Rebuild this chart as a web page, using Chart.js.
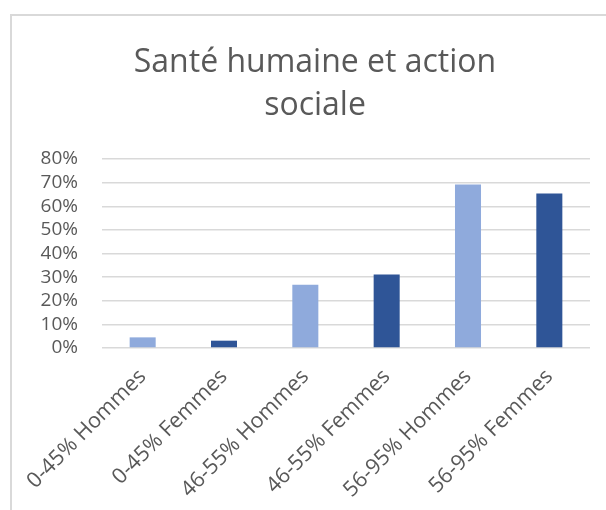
<!DOCTYPE html>
<html>
<head>
<meta charset="utf-8">
<script src="https://cdn.jsdelivr.net/npm/chart.js@4.4.1/dist/chart.umd.min.js"></script>
<style>
  html, body { margin: 0; padding: 0; background: #fff; overflow: hidden; }
  #cadre {
    position: absolute; left: 10px; top: 14px;
    width: 620px; height: 520px;
    border-top: 2px solid #d9d9d9; border-left: 2px solid #d9d9d9;
  }
  #graphique { position: absolute; left: 0; top: 0; }
</style>
</head>
<body>
<div id="cadre">
  <canvas id="graphique" width="606" height="494"></canvas>
</div>
<script>
// Catégories (tranche + sexe)
const categories = [
  "0-45% Hommes",
  "0-45% Femmes",
  "46-55% Hommes",
  "46-55% Femmes",
  "56-95% Hommes",
  "56-95% Femmes"
];
// Valeurs (part, 0..1)
const valeurs = [0.045, 0.031, 0.268, 0.311, 0.692, 0.654];
// Couleurs des barres : clair pour Hommes, foncé pour Femmes
const couleurs = ["#8faadc", "#2f5597", "#8faadc", "#2f5597", "#8faadc", "#2f5597"];
// Graduations de l'axe Y
const graduations = [0, 0.1, 0.2, 0.3, 0.4, 0.5, 0.6, 0.7, 0.8];
const titre = ["Santé humaine et action", "sociale"];

const police = "'Open Sans', 'Noto Sans', sans-serif";
const gris = "#595959";

const ctx = document.getElementById('graphique').getContext('2d');
new Chart(ctx, {
  type: 'bar',
  data: {
    labels: categories,
    datasets: [{
      data: valeurs,
      backgroundColor: couleurs,
      borderWidth: 0,
      barPercentage: 0.32,
      categoryPercentage: 1
    }]
  },
  options: {
    responsive: false,
    animation: false,
    layout: { padding: 0 },
    plugins: {
      legend: { display: false },
      tooltip: { enabled: false },
      title: {
        display: true,
        text: titre,
        color: gris,
        font: { family: police, size: 32, weight: 'normal', lineHeight: 1.36 },
        padding: { top: 25, bottom: 31 }
      }
    },
    scales: {
      x: {
        grid: { display: false, drawTicks: false },
        border: { display: false },
        ticks: {
          color: gris,
          font: { family: police, size: 21.5 },
          minRotation: 45,
          maxRotation: 45,
          padding: 16,
          autoSkip: false
        },
        afterFit: (scale) => {
          scale.height = 162;
          // les étiquettes inclinées peuvent déborder à gauche, comme dans l'original
          scale.paddingLeft = 0;
          scale.paddingRight = 0;
        }
      },
      y: {
        min: 0,
        max: 0.8,
        afterBuildTicks: (scale) => {
          scale.ticks = graduations.map(v => ({ value: v }));
        },
        grid: { color: "#d9d9d9", lineWidth: 1.5, drawTicks: false },
        border: { display: false },
        ticks: {
          color: gris,
          font: { family: police, size: 19 },
          padding: 24,
          autoSkip: false,
          callback: (v) => Math.round(v * 100) + '%'
        },
        afterFit: (scale) => { scale.width = 90; }
      },
      // axe vide à droite : réserve la marge droite du cadre
      marge: {
        type: 'linear',
        position: 'right',
        grid: { display: false, drawTicks: false },
        border: { display: false },
        ticks: { display: false },
        afterFit: (scale) => { scale.width = 28; }
      }
    }
  }
});
</script>
</body>
</html>
